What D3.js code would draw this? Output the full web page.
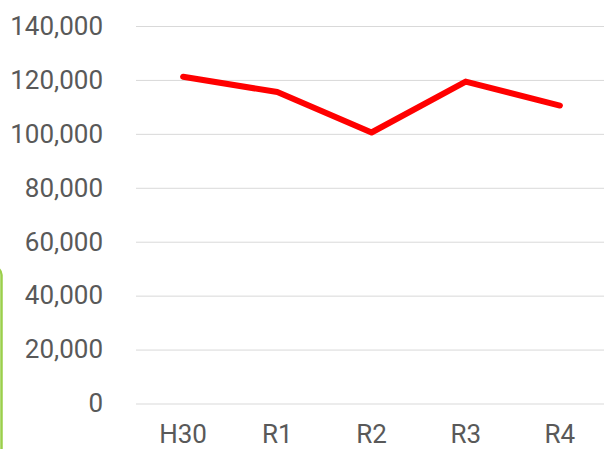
<!DOCTYPE html>
<html>
<head>
<meta charset="utf-8">
<script src="https://cdn.jsdelivr.net/npm/d3@7"></script>
<style>
  html, body { margin: 0; padding: 0; background: #fff; }
  #chart { width: 604px; height: 449px; overflow: hidden; }
  .axis text { font-family: Roboto, "Noto Sans", sans-serif; font-size: 26px; fill: #595959; }
</style>
</head>
<body>
<div id="chart"></div>
<script>
// chart data
const years  = ["H30", "R1", "R2", "R3", "R4"];
const counts = [121200, 115500, 100500, 119400, 110500];
const yTicks = [0, 20000, 40000, 60000, 80000, 100000, 120000, 140000];

const W = 604, H = 449;
const margin = {left: 136, top: 26, right: -3, bottom: 45.5},
    width  = W - margin.left - margin.right,
    height = H - margin.top - margin.bottom;

const svg = d3.select("#chart").append("svg")
    .attr("width", W)
    .attr("height", H);

// green frame edge of the next box, peeking in on the left
svg.append("rect")
    .attr("x", -30)
    .attr("y", 267)
    .attr("width", 31.5)
    .attr("height", 260)
    .attr("rx", 8)
    .attr("fill", "none")
    .attr("stroke", "#9bcf4b")
    .attr("stroke-width", 2.5);

const g = svg.append("g")
    .attr("transform", `translate(${margin.left}, ${margin.top})`);

const xScale = d3.scaleBand()
    .domain(years)
    .range([0, width])
    .padding(0);
const yScale = d3.scaleLinear()
    .domain([0, 140000])
    .range([height, 0]);

// y axis with gridlines
const yAxis = g.append("g")
    .attr("class", "axis")
    .call(d3.axisLeft(yScale)
        .tickValues(yTicks)
        .tickSize(-width)
        .tickPadding(33)
        .tickFormat(d3.format(",")));
yAxis.select(".domain").remove();
yAxis.selectAll("line")
    .attr("stroke", "#d9d9d9")
    .attr("stroke-width", 1);

// x axis, no ticks
const xAxis = g.append("g")
    .attr("class", "axis")
    .attr("transform", `translate(0, ${height})`)
    .call(d3.axisBottom(xScale).tickSize(0).tickPadding(21));
xAxis.select(".domain").remove();

const line = d3.line()
    .x((d, i) => xScale(years[i]) + xScale.bandwidth() / 2)
    .y(d => yScale(d));

g.append("path")
    .datum(counts)
    .attr("fill", "none")
    .attr("stroke", "#ff0000")
    .attr("stroke-width", 6)
    .attr("stroke-linecap", "round")
    .attr("stroke-linejoin", "round")
    .attr("d", line);
</script>
</body>
</html>
